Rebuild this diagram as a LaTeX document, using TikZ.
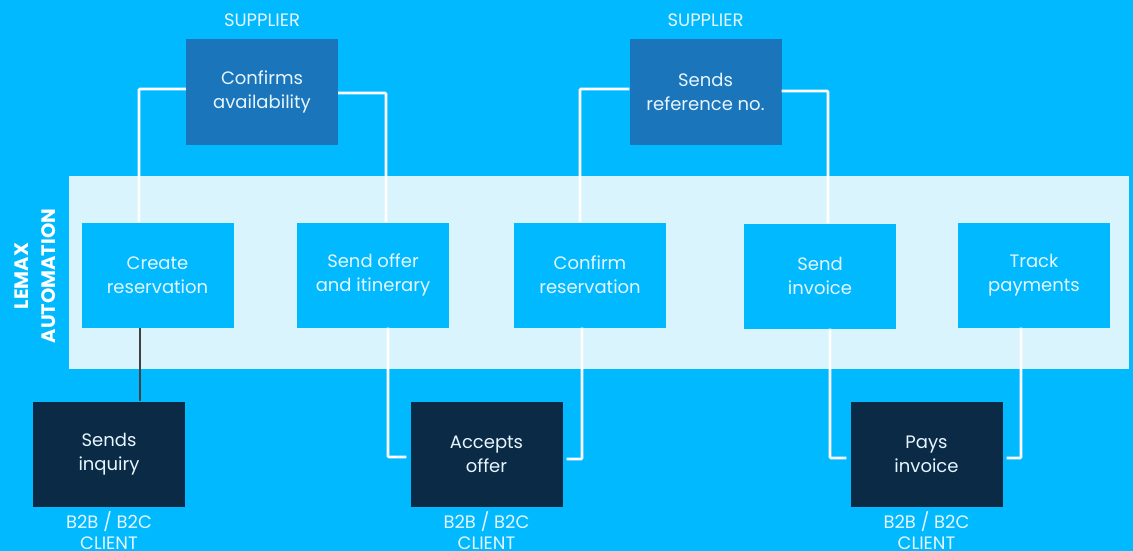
\documentclass[tikz,border=0pt]{standalone}
\usepackage{fontspec}
\setmainfont{Poppins}
\usetikzlibrary{positioning}

\definecolor{skyblue}{HTML}{00B9FF}
\definecolor{bandblue}{HTML}{DAF4FE}
\definecolor{supblue}{HTML}{1B75BB}
\definecolor{navy}{HTML}{0B2A45}
\definecolor{paletext}{HTML}{E6F6FF}

\begin{document}
\begin{tikzpicture}[
  x=1pt, y=-1pt,
  box/.style={rectangle, minimum width=152pt, minimum height=105pt, inner sep=0pt,
    align=center, text=paletext, font=\fontsize{18}{24}\selectfont},
  task/.style={box, fill=skyblue},
  supplier/.style={box, fill=supblue},
  client/.style={box, fill=navy},
  role/.style={align=center, text=paletext, font=\fontsize{18}{21}\selectfont},
  link/.style={draw=white, line width=2.6pt, rounded corners=1pt},
  darklink/.style={draw=black!75, line width=2.2pt}
]

% --- background and automation band ---
\fill[skyblue] (0,0) rectangle (1133,551);
\useasboundingbox (0,0) rectangle (1133,551);
\fill[bandblue] (69,176) rectangle (1129,369);
\node[rotate=90, align=center, text=white, font=\fontsize{19.5}{27}\selectfont\bfseries]
  (band) at (35,276) {LEMAX\\AUTOMATION};

% --- Lemax automation steps ---
\node[task] (create)  at (157.5,275) {Create\\reservation};
\node[task] (offer)   at (373,275)   {Send offer\\and itinerary};
\node[task] (confirm) at (590,275)   {Confirm\\reservation};
\node[task] (invoice) at (820,276)   {Send\\invoice};
\node[task] (track)   at (1034,275)  {Track\\payments};

% --- supplier steps ---
\node[supplier] (avail) at (262,92)   {Confirms\\availability};
\node[supplier] (refno) at (705.5,92) {Sends\\reference no.};
\node[role] (sup1) at (262,20)   {SUPPLIER};
\node[role] (sup2) at (705.5,20) {SUPPLIER};

% --- client steps ---
\node[client] (inquiry) at (109,454)   {Sends\\inquiry};
\node[client] (accept)  at (486.5,454) {Accepts\\offer};
\node[client] (pays)    at (926.5,454) {Pays\\invoice};
\node[role, below=1pt of inquiry] (cl1) {B2B / B2C\\CLIENT};
\node[role, below=1pt of accept]  (cl2) {B2B / B2C\\CLIENT};
\node[role, below=1pt of pays]    (cl3) {B2B / B2C\\CLIENT};

% --- connectors ---
\draw[darklink] ([xshift=31pt]inquiry.north) -- ([xshift=-17.5pt]create.south);
\draw[link] ([xshift=-18.5pt]create.north) |- ([yshift=3pt]avail.west);
\draw[link] ([yshift=-1pt]avail.east) -| ([xshift=13pt]offer.north);
\draw[link] ([xshift=15pt]offer.south) |- ([xshift=-4pt,yshift=-3pt]accept.west);
\draw[link] ([xshift=4pt,yshift=-5pt]accept.east) -| ([xshift=-8pt]confirm.south);
\draw[link] ([xshift=-10pt]confirm.north) |- ([yshift=3pt]refno.west);
\draw[link] ([yshift=1pt]refno.east) -| ([xshift=8pt]invoice.north);
\draw[link] ([xshift=10pt]invoice.south) |- ([xshift=-4pt,yshift=-4pt]pays.west);
\draw[link] ([xshift=4pt,yshift=-4pt]pays.east) -| ([xshift=-13pt]track.south);

\end{tikzpicture}
\end{document}
